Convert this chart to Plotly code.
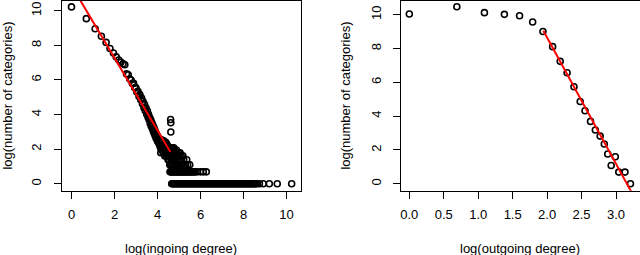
import plotly.graph_objects as go

# ---------------- left panel: log(number of categories) vs log(ingoing degree)
in_x_main = [0.00, 0.69, 1.10, 1.39, 1.61, 1.79, 1.95, 2.08, 2.20, 2.30, 2.40, 2.48,
             2.56, 2.64, 2.71, 2.77, 2.83, 2.89, 2.94, 3.00, 3.04, 3.09, 3.14, 3.18,
             3.22, 3.26, 3.30, 3.33, 3.37, 3.40, 3.43, 3.47, 3.50, 3.53, 3.56, 3.58,
             3.61, 3.64, 3.66, 3.69, 3.71, 3.74, 3.76, 3.78, 3.81, 3.83, 3.85, 3.87,
             3.89, 3.91, 3.93, 3.95, 3.97, 3.99, 4.01, 4.03, 4.04, 4.06, 4.08, 4.09,
             4.11, 4.13, 4.14, 4.15, 4.16, 4.17, 4.19, 4.20, 4.22, 4.23, 4.25, 4.26,
             4.28, 4.29, 4.30, 4.32, 4.33, 4.34, 4.36, 4.37, 4.38, 4.39, 4.41, 4.42,
             4.43, 4.44, 4.45, 4.47, 4.48, 4.49, 4.50, 4.51, 4.52, 4.53, 4.54, 4.55,
             4.56, 4.57, 4.58, 4.60, 4.61, 4.62, 4.62]
in_y_main = [10.22, 9.54, 8.96, 8.52, 8.17, 7.82, 7.56, 7.33, 7.15, 7.02, 6.93, 6.88,
             6.35, 6.30, 6.05, 6.00, 5.80, 5.80, 5.55, 5.55, 5.30, 5.35, 5.05, 5.15,
             4.85, 4.95, 4.62, 4.75, 4.40, 4.58, 4.22, 4.38, 4.02, 4.20, 3.85, 4.02,
             3.70, 3.82, 3.48, 3.68, 3.33, 3.52, 3.18, 3.40, 3.02, 3.26, 2.90, 3.12,
             2.78, 2.98, 2.64, 2.88, 2.56, 2.77, 2.45, 2.64, 2.40, 2.56, 2.30, 2.48,
             2.20, 2.40, 2.08, 1.79, 2.30, 2.56, 2.20, 1.95, 2.40, 2.08, 2.30, 1.79,
             2.20, 2.48, 1.95, 2.30, 2.08, 1.61, 2.20, 1.95, 2.40, 1.79, 2.08, 1.61,
             2.30, 1.95, 1.79, 2.20, 1.61, 1.39, 2.08, 1.79, 1.95, 1.61, 1.39, 2.08,
             1.79, 1.10, 1.95, 1.61, 3.71, 3.53, 2.99]

# rows of equal counts beyond the power-law part (y = log of the count)
in_row_levels = [2.08, 1.95, 1.79, 1.61, 1.39, 1.10, 0.69, 0.00]
in_row_2_08 = [4.58, 4.64, 4.70, 4.76]
in_row_1_95 = [4.60, 4.66, 4.72, 4.80, 4.88]
in_row_1_79 = [4.62, 4.68, 4.74, 4.82, 4.90, 4.98, 5.05]
in_row_1_61 = [4.61, 4.66, 4.71, 4.77, 4.84, 4.92, 5.00, 5.10, 5.18]
in_row_1_39 = [4.63, 4.68, 4.73, 4.78, 4.85, 4.93, 5.02, 5.12, 5.22, 5.36]
in_row_1_10 = [4.62, 4.67, 4.72, 4.77, 4.82, 4.87, 4.92, 4.98, 5.04, 5.10, 5.16,
               5.22, 5.30, 5.40, 5.50]
in_row_0_69 = [4.58, 4.62, 4.66, 4.70, 4.74, 4.78, 4.82, 4.86, 4.90, 4.94, 4.98,
               5.02, 5.06, 5.10, 5.14, 5.18, 5.22, 5.26, 5.30, 5.34, 5.38, 5.42,
               5.46, 5.50, 5.55, 5.60, 5.65, 5.70, 5.75, 5.85, 6.00, 6.13, 6.27]
in_row_0_00 = [4.66, 4.71, 4.75, 4.80, 4.86, 4.91, 4.95, 5.01, 5.06, 5.10, 5.16,
               5.21, 5.25, 5.31, 5.36, 5.40, 5.46, 5.51, 5.55, 5.61, 5.66, 5.70,
               5.76, 5.81, 5.85, 5.91, 5.96, 6.00, 6.06, 6.11, 6.15, 6.21, 6.26,
               6.30, 6.36, 6.41, 6.45, 6.51, 6.56, 6.60, 6.66, 6.71, 6.75, 6.81,
               6.86, 6.90, 6.96, 7.01, 7.05, 7.11, 7.16, 7.20, 7.26, 7.31, 7.35,
               7.41, 7.46, 7.50, 7.56, 7.61, 7.65, 7.71, 7.76, 7.80, 7.86, 7.91,
               7.95, 8.01, 8.06, 8.10, 8.16, 8.21, 8.25, 8.31, 8.36, 8.40, 8.46,
               8.51, 8.56, 8.61, 8.74, 8.92, 9.20, 9.57, 10.24]

in_fit_x = [0.00, 4.60]
in_fit_y = [11.45, 1.84]

# ---------------- right panel: log(number of categories) vs log(outgoing degree)
out_x = [0.00, 0.69, 1.09, 1.38, 1.60, 1.79, 1.94, 2.08, 2.19, 2.29, 2.39, 2.48,
         2.55, 2.63, 2.70, 2.77, 2.83, 2.88, 2.93, 2.99, 3.04, 3.13, 3.21]
out_y = [10.04, 10.47, 10.12, 10.02, 9.94, 9.57, 9.01, 8.11, 7.24, 6.57, 5.74, 4.87,
         4.32, 3.69, 3.18, 2.82, 2.35, 1.76, 1.08, 1.60, 0.69, 0.69, 0.00]
out_fit_x = [1.946, 3.219]
out_fit_y = [9.05, -0.45]

in_ticks = [0, 2, 4, 6, 8, 10]
out_ticks = [0.0, 0.5, 1.0, 1.5, 2.0, 2.5, 3.0]
y_ticks = [0, 2, 4, 6, 8, 10]

# ---------------- assemble left scatter
rows = [in_row_2_08, in_row_1_95, in_row_1_79, in_row_1_61, in_row_1_39,
        in_row_1_10, in_row_0_69, in_row_0_00]
in_x = list(in_x_main)
in_y = list(in_y_main)
for lvl, xs in zip(in_row_levels, rows):
    in_x += xs
    in_y += [lvl] * len(xs)

FONT = "Liberation Sans, Arial, Helvetica, sans-serif"
marker = dict(symbol="circle-open", size=6, color="black", line=dict(width=1.6, color="black"))

fig = go.Figure()
fig.add_trace(go.Scatter(x=in_x, y=in_y, mode="markers", marker=marker,
                         xaxis="x", yaxis="y", showlegend=False))
fig.add_trace(go.Scatter(x=in_fit_x, y=in_fit_y, mode="lines",
                         line=dict(color="#ff0000", width=2),
                         xaxis="x", yaxis="y", showlegend=False))
fig.add_trace(go.Scatter(x=out_x, y=out_y, mode="markers", marker=marker,
                         xaxis="x2", yaxis="y2", showlegend=False))
fig.add_trace(go.Scatter(x=out_fit_x, y=out_fit_y, mode="lines",
                         line=dict(color="#ff0000", width=2),
                         xaxis="x2", yaxis="y2", showlegend=False))

W, H = 640, 255
def px_x(p):
    return p / W
def px_y(p):
    return (H - p) / H

ydom = [px_y(190.7), px_y(0.5)]
common = dict(showline=True, mirror=True, linecolor="black", linewidth=1,
              ticks="outside", ticklen=7, tickwidth=1, tickcolor="black",
              showgrid=False, zeroline=False,
              tickfont=dict(family=FONT, size=13, color="black"))

fig.update_layout(
    width=W, height=H,
    margin=dict(l=0, r=0, t=0, b=0),
    paper_bgcolor="white", plot_bgcolor="white",
    font=dict(family=FONT, size=13, color="black"),
    xaxis=dict(domain=[px_x(61.5), px_x(300.7)], range=[-0.465, 10.66],
               tickvals=in_ticks, ticklabelstandoff=5, anchor="y", **common),
    yaxis=dict(domain=ydom, range=[-0.40, 10.59], tickvals=y_ticks,
               tickangle=-90, ticklabelstandoff=7, anchor="x", **common),
    xaxis2=dict(domain=[px_x(400.7), px_x(639.5)], range=[-0.125, 3.341],
                tickvals=out_ticks, tickformat=".1f", ticklabelstandoff=5,
                anchor="y2", **common),
    yaxis2=dict(domain=ydom, range=[-0.41, 10.84], tickvals=y_ticks,
                tickangle=-90, ticklabelstandoff=7, anchor="x2", **common),
    annotations=[
        dict(text="log(ingoing degree)", x=px_x(181), y=px_y(248), xref="paper", yref="paper",
             showarrow=False, xanchor="center", yanchor="middle", font=dict(size=13)),
        dict(text="log(outgoing degree)", x=px_x(520), y=px_y(248), xref="paper", yref="paper",
             showarrow=False, xanchor="center", yanchor="middle", font=dict(size=13)),
        dict(text="log(number of categories)", x=px_x(8), y=px_y(95.6), xref="paper", yref="paper",
             showarrow=False, xanchor="center", yanchor="middle", textangle=-90, font=dict(size=13)),
        dict(text="log(number of categories)", x=px_x(346), y=px_y(95.6), xref="paper", yref="paper",
             showarrow=False, xanchor="center", yanchor="middle", textangle=-90, font=dict(size=13)),
    ],
)

fig.write_html("out.html", config={"displayModeBar": False},
               post_script="document.body.style.margin='0';document.body.style.overflow='hidden';")
